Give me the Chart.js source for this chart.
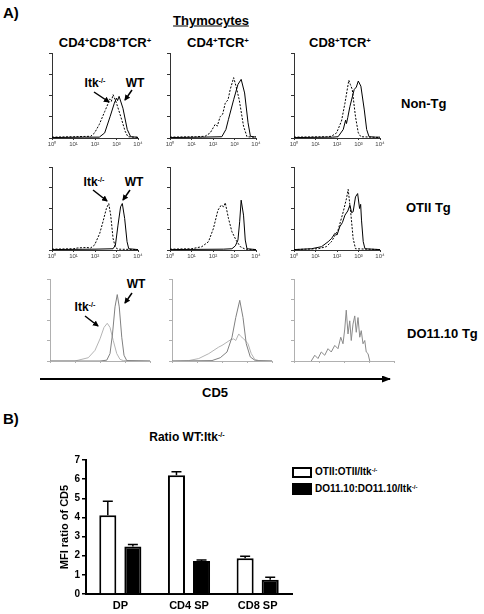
<!DOCTYPE html>
<html>
<head>
<meta charset="utf-8">
<script src="https://cdn.jsdelivr.net/npm/chart.js@4/dist/chart.umd.min.js"></script>
<style>
  body { margin: 0; background: #fff; }
  #page { position: relative; width: 484px; height: 614px; overflow: hidden; font-family: "Liberation Sans", Arial, sans-serif; font-weight: bold; color: #000; }
  .t { position: absolute; white-space: nowrap; line-height: 1; }
  .c { transform: translate(-50%, -50%); }
  .l { transform: translate(0, -50%); }
  sup { font-size: 0.6em; vertical-align: 0.5em; line-height: 0; }
  canvas { position: absolute; }
  .box { position: absolute; box-sizing: border-box; border: 2px solid #000; }
</style>
</head>
<body>
<div id="page">
  <div class="t l" style="left:3px;top:12px;font-size:15px">A)</div>
  <div class="t c" style="left:211px;top:20px;font-size:13px;text-decoration:underline">Thymocytes</div>
  <div class="t c" style="left:105px;top:42px;font-size:13px">CD4<sup>+</sup>CD8<sup>+</sup>TCR<sup>+</sup></div>
  <div class="t c" style="left:218px;top:42px;font-size:13px">CD4<sup>+</sup>TCR<sup>+</sup></div>
  <div class="t c" style="left:340px;top:42px;font-size:13px">CD8<sup>+</sup>TCR<sup>+</sup></div>

  <div class="t l" style="left:401px;top:103px;font-size:13px">Non-Tg</div>
  <div class="t l" style="left:406px;top:207px;font-size:13px">OTII Tg</div>
  <div class="t l" style="left:407px;top:333px;font-size:13px">DO11.10 Tg</div>

  <div class="t c" style="left:95px;top:83px;font-size:12px">Itk<sup>-/-</sup></div>
  <div class="t c" style="left:135px;top:83px;font-size:12px">WT</div>
  <div class="t c" style="left:94px;top:182px;font-size:12px">Itk<sup>-/-</sup></div>
  <div class="t c" style="left:134px;top:182px;font-size:12px">WT</div>
  <div class="t c" style="left:85px;top:307px;font-size:12px">Itk<sup>-/-</sup></div>
  <div class="t c" style="left:136px;top:284px;font-size:12px">WT</div>

  <div class="t c" style="left:215px;top:392px;font-size:13px">CD5</div>

  <div class="t l" style="left:3px;top:418px;font-size:15px">B)</div>
  <div class="t c" style="left:187px;top:437px;font-size:12px">Ratio WT:Itk<sup>-/-</sup></div>

  <div class="box" style="left:292px;top:467px;width:20px;height:11px;background:#fff"></div>
  <div class="box" style="left:292px;top:483px;width:20px;height:12px;background:#000"></div>
  <div class="t l" style="left:315px;top:472px;font-size:10px">OTII:OTII/Itk<sup>-/-</sup></div>
  <div class="t l" style="left:315px;top:489px;font-size:10px">DO11.10:DO11.10/Itk<sup>-/-</sup></div>

  <svg width="484" height="614" style="position:absolute;left:0;top:0;pointer-events:none">
    <defs>
      <marker id="ah" markerWidth="6" markerHeight="6" refX="5" refY="3" orient="auto" markerUnits="userSpaceOnUse">
        <path d="M0,0 L6,3 L0,6 z" fill="#000"/>
      </marker>
      <marker id="big" markerWidth="9" markerHeight="7" refX="8" refY="3.5" orient="auto" markerUnits="userSpaceOnUse">
        <path d="M0,0 L9,3.5 L0,7 z" fill="#000"/>
      </marker>
    </defs>
    <g stroke="#000" stroke-width="1.5" marker-end="url(#ah)">
      <line x1="94" y1="92" x2="109" y2="102"/>
      <line x1="132" y1="90" x2="125" y2="100"/>
      <line x1="93" y1="190" x2="107" y2="201"/>
      <line x1="130" y1="190" x2="123" y2="200"/>
      <line x1="85" y1="316" x2="98" y2="326"/>
      <line x1="132" y1="293" x2="125" y2="303"/>
    </g>
    <line x1="40" y1="379" x2="390" y2="379" stroke="#000" stroke-width="2" marker-end="url(#big)"/>
  </svg>

  <canvas id="h11"></canvas><canvas id="h12"></canvas><canvas id="h13"></canvas>
  <canvas id="h21"></canvas><canvas id="h22"></canvas><canvas id="h23"></canvas>
  <canvas id="h31"></canvas><canvas id="h32"></canvas><canvas id="h33"></canvas>
  <canvas id="bars"></canvas>
</div>

<script>
// CD5 histograms: [log10 CD5, % of max]
const nonTgDP_WT  = [[0,0.5],[1.5,1],[2.2,1],[2.45,6],[2.7,25],[2.9,41],[3.0,47],[3.05,44],[3.12,49],[3.3,35],[3.5,10],[3.66,1.5],[3.9,1],[4,0.5]];
const nonTgDP_Itk = [[0,1],[1.0,1.5],[1.8,2],[1.98,6],[2.2,16],[2.45,31],[2.6,40],[2.68,46],[2.76,43],[2.84,51],[3.0,41],[3.2,25],[3.4,8],[3.53,1.5],[3.8,1],[4,1]];
const nonTgCD4_WT  = [[0,0.5],[1.5,1],[2.41,1.5],[2.6,10],[2.72,22],[2.96,45],[3.16,63],[3.31,69],[3.47,53],[3.63,18],[3.74,2],[4,1]];
const nonTgCD4_Itk = [[0,1],[1.2,1.5],[1.63,2],[1.87,6],[2.1,16],[2.2,14],[2.33,25],[2.45,28],[2.57,41],[2.7,45],[2.8,57],[2.96,71],[3.07,61],[3.22,45],[3.42,14],[3.58,1.5],[3.9,1],[4,2]];
const nonTgCD8_WT  = [[0,0.5],[1.8,1],[2.05,1.5],[2.29,10],[2.4,21],[2.44,17],[2.5,24],[2.6,37],[2.8,57],[2.9,60],[2.99,67],[3.11,61],[3.27,33],[3.38,10],[3.49,1.5],[3.8,1],[4,1]];
const nonTgCD8_Itk = [[0,1],[1.5,1.5],[1.74,2],[1.98,6],[2.21,20],[2.37,41],[2.55,68],[2.62,63],[2.71,57],[2.86,25],[2.99,6],[3.11,1.5],[3.6,1],[4,0.5]];

const otiiDP_WT  = [[0,0.5],[2.0,1],[2.84,1.5],[2.95,6],[3.07,30],[3.19,52],[3.27,56],[3.38,38],[3.49,10],[3.57,1.5],[4,0.5]];
const otiiDP_Itk = [[0,1],[1.0,1.5],[1.2,2.5],[1.6,3],[1.8,2.5],[1.98,6],[2.22,20],[2.37,34],[2.53,50],[2.64,56],[2.73,42],[2.84,14],[2.95,3],[3.07,1],[4,0.5]];
const otiiCD4_WT  = [[0,0.5],[2.5,1],[2.88,1.5],[3.04,5],[3.16,12],[3.24,34],[3.31,60],[3.42,42],[3.5,12],[3.58,1.5],[4,0.5]];
const otiiCD4_Itk = [[0,1],[1.01,1.5],[1.48,4],[1.79,10],[2.02,26],[2.23,48],[2.38,54],[2.5,52],[2.57,57],[2.72,38],[2.88,22],[3.07,12],[3.27,4],[3.5,1],[4,0.5]];
const otiiCD8_WT  = [[0,0.5],[0.81,1.5],[1.28,4],[1.59,10],[1.75,14],[1.9,20],[2.0,18],[2.13,28],[2.25,33],[2.37,42],[2.5,47],[2.6,54],[2.68,45],[2.75,46],[2.86,64],[2.96,68],[3.05,50],[3.1,55],[3.14,36],[3.22,10],[3.3,1.5],[4,0.5]];
const otiiCD8_Itk = [[0,0.5],[1.12,1.5],[1.5,4],[1.74,10],[2.05,24],[2.29,46],[2.44,62],[2.52,73],[2.65,42],[2.75,14],[2.86,1.5],[4,0.5]];

const do11DP_WT  = [[0,0],[2.0,0],[2.27,1],[2.4,9],[2.5,33],[2.6,66],[2.69,81],[2.77,66],[2.87,29],[2.96,7],[3.07,0.5],[4,0]];
const do11DP_Itk = [[0,0],[1.0,0],[1.13,1],[1.53,4],[1.8,13],[2.0,27],[2.16,41],[2.29,46],[2.4,41],[2.53,25],[2.67,9],[2.8,2],[2.93,0.5],[4,0]];
const do11CD4_WT  = [[0,0],[1.6,0.5],[1.93,4],[2.2,11],[2.4,29],[2.55,53],[2.71,74],[2.84,53],[2.97,21],[3.13,5],[3.33,0.5],[4,0]];
const do11CD4_Itk = [[0,0],[0.67,0.5],[1.07,3],[1.47,9],[1.87,17],[2.0,19],[2.2,23],[2.35,26],[2.47,27],[2.55,25],[2.67,33],[2.75,30],[2.87,27],[3.04,21],[3.17,9],[3.31,2],[3.47,0.5],[4,0]];
const do11CD8 = [[0.69,0],[0.83,7],[0.96,3],[1.09,11],[1.23,7],[1.36,15],[1.49,11],[1.63,19],[1.76,15],[1.87,29],[1.96,21],[2.03,39],[2.09,62],[2.16,33],[2.23,49],[2.29,25],[2.36,45],[2.43,55],[2.49,35],[2.56,53],[2.63,29],[2.69,37],[2.76,21],[2.83,25],[2.89,11],[2.96,9],[3.03,0]];

const decadeTicks = ['10⁰', '10¹', '10²', '10³', '10⁴'];

// panel B
const categories = ['DP', 'CD4 SP', 'CD8 SP'];
const otiiRatio = [4.12, 6.2, 1.87];
const otiiErr   = [0.73, 0.18, 0.1];
const do11Ratio = [2.48, 1.72, 0.75];
const do11Err   = [0.1, 0.05, 0.13];

const FONT = "'Liberation Sans', Arial, sans-serif";

function pts(arr){
	return arr.map(p => ({x: p[0], y: p[1]}));
}

function histChart(id, box, lines, faint){
	let cv = document.getElementById(id);
	let yW = 6, padT = 3, padR = 7, xH = 12;
	cv.width = yW + box.w + padR;
	cv.height = padT + box.h + xH;
	cv.style.left = (box.left - yW) + 'px';
	cv.style.top = (box.top - padT) + 'px';
	let axisCol = faint ? '#b0b0b0' : '#333';
	new Chart(cv, {
		type: 'line',
		data: {
			datasets: lines.map(l => ({
				data: pts(l.data),
				borderColor: l.color || '#000',
				borderWidth: 1,
				borderDash: l.dash ? [2, 1.5] : [],
				pointRadius: 0,
				tension: 0,
				fill: false
			}))
		},
		options: {
			responsive: false,
			animation: false,
			layout: {padding: {top: padT, right: padR, left: 0, bottom: 0}},
			plugins: {legend: {display: false}, tooltip: {enabled: false}},
			scales: {
				x: {
					type: 'linear', min: 0, max: 4,
					afterFit: s => { s.height = xH; },
					border: {display: true, color: axisCol, width: 1},
					grid: {drawOnChartArea: false, tickLength: 2, color: axisCol},
					ticks: {
						display: !faint, stepSize: 1, autoSkip: false, maxRotation: 0, padding: 1,
						color: '#444', font: {family: FONT, size: 6},
						callback: v => decadeTicks[v]
					}
				},
				y: {
					min: 0, max: 100,
					afterFit: s => { s.width = yW; },
					border: {display: true, color: axisCol, width: 1},
					grid: {drawOnChartArea: false, tickLength: 3, color: axisCol},
					ticks: {display: false, stepSize: 25}
				}
			}
		}
	});
}

const row1 = {top: 53, h: 85}, row2 = {top: 167, h: 83}, row3 = {top: 279, h: 82};
const colL = [52, 170, 294], colL3 = [50, 172, 294];

histChart('h11', {left: colL[0], top: row1.top, w: 86, h: row1.h}, [{data: nonTgDP_WT}, {data: nonTgDP_Itk, dash: true}]);
histChart('h12', {left: colL[1], top: row1.top, w: 86, h: row1.h}, [{data: nonTgCD4_WT}, {data: nonTgCD4_Itk, dash: true}]);
histChart('h13', {left: colL[2], top: row1.top, w: 86, h: row1.h}, [{data: nonTgCD8_WT}, {data: nonTgCD8_Itk, dash: true}]);
histChart('h21', {left: colL[0], top: row2.top, w: 86, h: row2.h}, [{data: otiiDP_WT}, {data: otiiDP_Itk, dash: true}]);
histChart('h22', {left: colL[1], top: row2.top, w: 86, h: row2.h}, [{data: otiiCD4_WT}, {data: otiiCD4_Itk, dash: true}]);
histChart('h23', {left: colL[2], top: row2.top, w: 86, h: row2.h}, [{data: otiiCD8_WT}, {data: otiiCD8_Itk, dash: true}]);
histChart('h31', {left: colL3[0], top: row3.top, w: 100, h: row3.h}, [{data: do11DP_WT, color: '#808080'}, {data: do11DP_Itk, color: '#b4b4b4'}], true);
histChart('h32', {left: colL3[1], top: row3.top, w: 100, h: row3.h}, [{data: do11CD4_WT, color: '#808080'}, {data: do11CD4_Itk, color: '#b4b4b4'}], true);
histChart('h33', {left: colL3[2], top: row3.top, w: 100, h: row3.h}, [{data: do11CD8, color: '#8a8a8a'}], true);

// error bars, upper half only
const errBars = {
	id: 'errBars',
	afterDatasetsDraw(chart){
		let ctx = chart.ctx;
		let ys = chart.scales.y;
		let errs = [otiiErr, do11Err];
		ctx.save();
		ctx.strokeStyle = '#000';
		ctx.lineWidth = 1.5;
		chart.data.datasets.forEach((ds, i) => {
			let meta = chart.getDatasetMeta(i);
			meta.data.forEach((el, j) => {
				let top = ys.getPixelForValue(ds.data[j] + errs[i][j]);
				ctx.beginPath();
				ctx.moveTo(el.x, el.y);
				ctx.lineTo(el.x, top);
				ctx.moveTo(el.x - 5, top);
				ctx.lineTo(el.x + 5, top);
				ctx.stroke();
			});
		});
		ctx.restore();
	}
};

let bc = document.getElementById('bars');
bc.width = 238;
bc.height = 162;
bc.style.left = '58px';
bc.style.top = '452px';
new Chart(bc, {
	type: 'bar',
	data: {
		labels: categories,
		datasets: [
			{label: 'OTII:OTII/Itk-/-', data: otiiRatio, backgroundColor: '#fff', borderColor: '#000', borderWidth: 2, borderSkipped: 'bottom'},
			{label: 'DO11.10:DO11.10/Itk-/-', data: do11Ratio, backgroundColor: '#000', borderColor: '#000', borderWidth: 2, borderSkipped: 'bottom'}
		]
	},
	options: {
		responsive: false,
		animation: false,
		layout: {padding: {top: 8, right: 4, left: 0, bottom: 0}},
		plugins: {legend: {display: false}, tooltip: {enabled: false}},
		datasets: {bar: {categoryPercentage: 0.73, barPercentage: 0.68}},
		scales: {
			x: {
				afterFit: s => { s.height = 20; },
				border: {display: true, color: '#000', width: 2},
				grid: {display: false, drawTicks: false},
				ticks: {color: '#000', padding: 5, font: {family: FONT, size: 11, weight: 'bold'}}
			},
			y: {
				min: 0, max: 7,
				afterFit: s => { s.width = 28; },
				border: {display: true, color: '#000', width: 2},
				grid: {drawOnChartArea: false, tickLength: 4, color: '#000', lineWidth: 1.5},
				ticks: {stepSize: 1, padding: 2, color: '#000', font: {family: FONT, size: 10, weight: 'bold'}},
				title: {display: true, text: 'MFI ratio of CD5', padding: 0, color: '#000', font: {family: FONT, size: 11, weight: 'bold'}}
			}
		}
	},
	plugins: [errBars]
});
</script>
</body>
</html>
